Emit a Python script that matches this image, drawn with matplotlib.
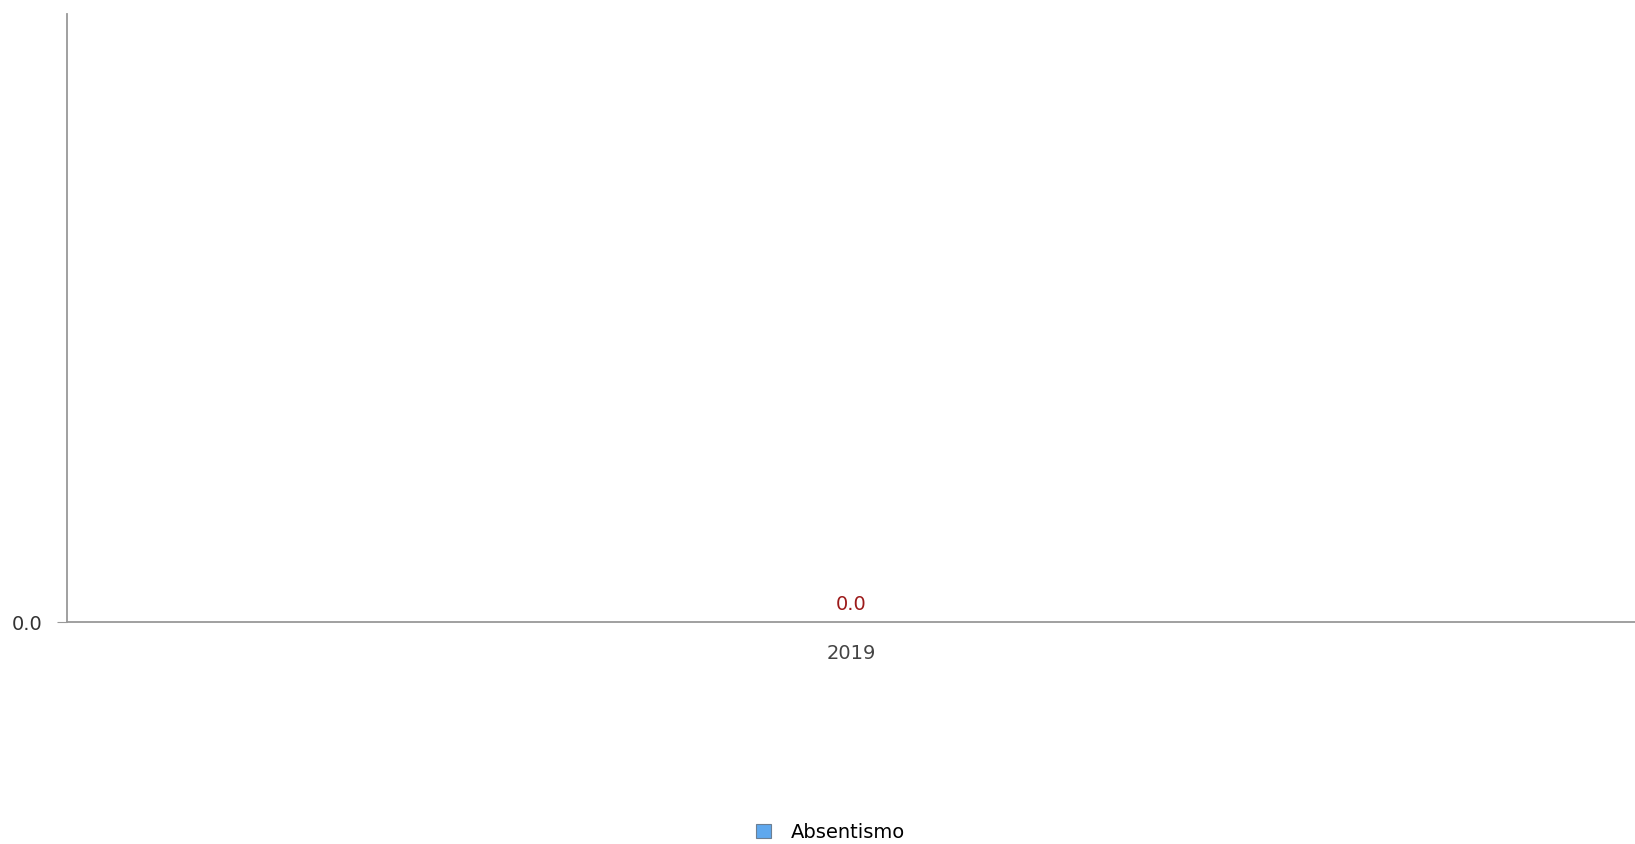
import matplotlib
matplotlib.use('Agg')
import matplotlib.pyplot as plt
from matplotlib.patches import Patch

# data
years = ['2019']
absentismo = [0.0]
yticks = [0.0]

fig = plt.figure(figsize=(16.35, 8.44), dpi=100)
ax = fig.add_axes([67/1635, 1 - 622/844, 1 - 67/1635, 608/844])

x = range(len(years))
bars = ax.bar(x, absentismo, width=0.5, color='#5fa8ee', edgecolor='#6d7f92',
              linewidth=0.8, label='Absentismo')
ax.bar_label(bars, labels=['%.1f' % v for v in absentismo], padding=6,
             color='#9c1a1a', fontsize=14)

ax.set_xlim(-0.5, len(years) - 0.5)
ax.set_ylim(0, 1)
ax.set_xticks(list(x))
ax.set_xticklabels(years, color='#444444', fontsize=14)
ax.set_yticks(yticks)
ax.set_yticklabels(['%.1f' % t for t in yticks], color='#333333', fontsize=14)
ax.tick_params(axis='x', length=0, pad=16)
ax.tick_params(axis='y', length=7.5, color='#999999', pad=10)

for s in ['top', 'right']:
    ax.spines[s].set_visible(False)
for s in ['left', 'bottom']:
    ax.spines[s].set_color('#999999')
    ax.spines[s].set_linewidth(1.3)

handle = Patch(facecolor='#5fa8ee', edgecolor='#6d7f92', linewidth=0.8)
fig.legend([handle], ['Absentismo'], loc='center', bbox_to_anchor=(0.508, 1 - 832/844),
           frameon=False, fontsize=14, handlelength=0.75, handleheight=0.75,
           handletextpad=1.0, borderpad=0)

fig.savefig('out.png', dpi=100, facecolor='white')
